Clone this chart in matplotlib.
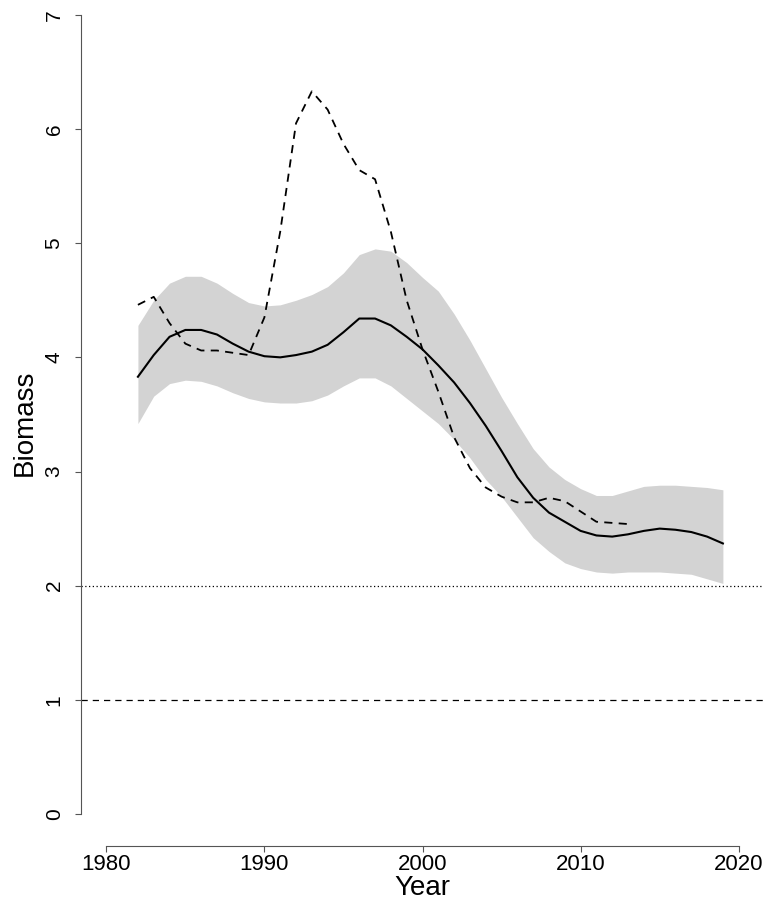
import matplotlib
matplotlib.use("Agg")
import matplotlib.pyplot as plt
import numpy as np

years = list(range(1982, 2020))
biomass_est = [3.83, 4.02, 4.18, 4.24, 4.24, 4.20, 4.12, 4.05, 4.01, 4.00,
               4.02, 4.05, 4.11, 4.22, 4.34, 4.34, 4.28, 4.18, 4.07, 3.93,
               3.78, 3.60, 3.40, 3.18, 2.95, 2.77, 2.64, 2.56, 2.48, 2.44,
               2.43, 2.45, 2.48, 2.50, 2.49, 2.47, 2.43, 2.37]
upper_ci = [4.28, 4.50, 4.65, 4.71, 4.71, 4.65, 4.56, 4.48, 4.45, 4.46,
            4.50, 4.55, 4.62, 4.74, 4.90, 4.95, 4.93, 4.83, 4.70, 4.58,
            4.38, 4.15, 3.90, 3.65, 3.42, 3.20, 3.04, 2.93, 2.85, 2.79,
            2.79, 2.83, 2.87, 2.88, 2.88, 2.87, 2.86, 2.84]
lower_ci = [3.42, 3.66, 3.77, 3.80, 3.79, 3.75, 3.69, 3.64, 3.61, 3.60,
            3.60, 3.62, 3.67, 3.75, 3.82, 3.82, 3.75, 3.64, 3.53, 3.42,
            3.28, 3.12, 2.93, 2.78, 2.60, 2.42, 2.30, 2.20, 2.15, 2.12,
            2.11, 2.12, 2.12, 2.12, 2.11, 2.10, 2.06, 2.02]

obs_years = list(range(1982, 2014))
biomass_obs = [4.46, 4.53, 4.30, 4.12, 4.06, 4.06, 4.04, 4.02, 4.35, 5.10,
               6.05, 6.33, 6.17, 5.87, 5.64, 5.56, 5.10, 4.50, 4.07, 3.70,
               3.30, 3.03, 2.86, 2.78, 2.73, 2.73, 2.77, 2.74, 2.65, 2.56,
               2.55, 2.54]

ref_dotted = 2
ref_dashed = 1
xticks = [1980, 1990, 2000, 2010, 2020]
yticks = [0, 1, 2, 3, 4, 5, 6, 7]

plt.rcParams['font.family'] = ['Liberation Sans', 'DejaVu Sans']

W, H = 765, 905
fig = plt.figure(figsize=(W / 100, H / 100), dpi=100)
left_px, right_px, bottom_px, top_px = 81, 764, 846, 0
ax = fig.add_axes([left_px / W, (H - bottom_px) / H,
                   (right_px - left_px) / W, (bottom_px - top_px) / H])

ax.fill_between(years, lower_ci, upper_ci, color='#d3d3d3', linewidth=0)
ax.plot(years, biomass_est, color='black', linewidth=1.5)
ax.plot(obs_years, biomass_obs, color='black', linewidth=1.3,
        linestyle=(0, (4.5, 3.5)))
ax.axhline(ref_dotted, color='black', linewidth=0.9, linestyle=(0, (1, 2)))
ax.axhline(ref_dashed, color='black', linewidth=0.9, linestyle=(0, (5, 4)))

ax.set_xlim(1978.4, 2021.6)
ax.set_ylim(-0.28, 7.13)

for s in ['top', 'right']:
    ax.spines[s].set_visible(False)
ax.spines['left'].set_bounds(0, 7)
ax.spines['bottom'].set_bounds(1980, 2020)
for s in ['left', 'bottom']:
    ax.spines[s].set_color('#555555')
    ax.spines[s].set_linewidth(0.8)

ax.set_xticks(xticks)
ax.set_yticks(yticks)
ax.set_yticklabels([str(v) for v in yticks], rotation=90, va='center')
ax.tick_params(axis='both', direction='out', length=4.5, width=0.8,
               color='#555555')
ax.tick_params(axis='x', labelsize=16, pad=1)
ax.tick_params(axis='y', labelsize=15, pad=8)

ax.set_xlabel('Year', fontsize=20, labelpad=0)
ax.set_ylabel('Biomass', fontsize=20, labelpad=5)

fig.savefig('out.png', dpi=100)
